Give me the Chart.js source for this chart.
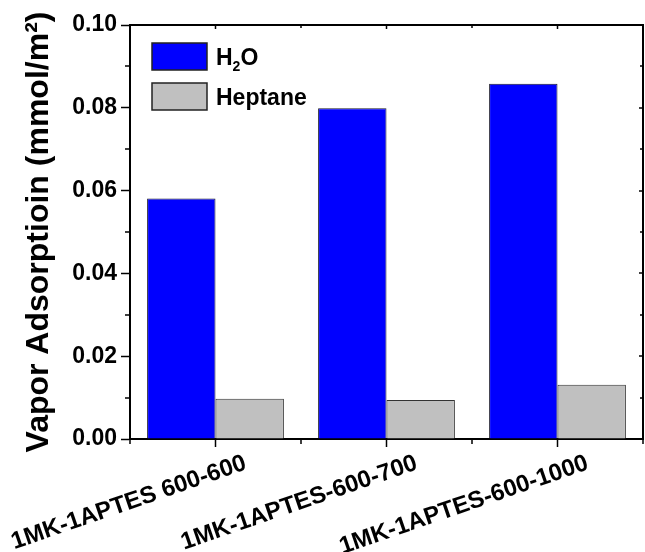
<!DOCTYPE html>
<html>
<head>
<meta charset="utf-8">
<script src="https://cdn.jsdelivr.net/npm/chart.js@4.4.1/dist/chart.umd.min.js"></script>
<style>
  html, body { margin: 0; padding: 0; background: #fff; }
  #wrap { width: 645px; height: 552px; }
</style>
</head>
<body>
<div id="wrap"><canvas id="vaporChart" width="645" height="552"></canvas></div>
<script>
// data
const categories = ["1MK-1APTES 600-600", "1MK-1APTES-600-700", "1MK-1APTES-600-1000"];
const seriesNames = ["H2O", "Heptane"];
const h2oValues = [0.0581, 0.0799, 0.0858];
const heptaneValues = [0.0097, 0.0094, 0.0131];
const yTicks = [0, 0.02, 0.04, 0.06, 0.08, 0.1];

const FONT = "'Liberation Sans', Arial, sans-serif";

// frame, minor ticks and mirrored ticks on top / right
const framePlugin = {
  id: "frame",
  afterDraw(chart) {
    const ctx = chart.ctx;
    const { left, right, top, bottom } = chart.chartArea;
    const x = chart.scales.x;
    const y = chart.scales.y;
    ctx.save();
    ctx.strokeStyle = "#000";
    ctx.lineWidth = 2;
    ctx.beginPath();
    ctx.moveTo(left, top);
    ctx.lineTo(right, top);
    ctx.lineTo(right, bottom);
    ctx.stroke();

    // y minor ticks (outside left), inside ticks on right
    ctx.lineWidth = 1.5;
    for (let i = 0; i <= 10; i++) {
      const py = Math.round(y.getPixelForValue(i * 0.01));
      const major = i % 2 === 0;
      ctx.beginPath();
      if (!major) {
        ctx.moveTo(left, py);
        ctx.lineTo(left - 5, py);
      }
      ctx.moveTo(right, py);
      ctx.lineTo(right - (major ? 4 : 3), py);
      ctx.stroke();
    }

    // x minor ticks at category boundaries, top ticks inward
    const n = categories.length;
    for (let i = 0; i <= n; i++) {
      const px = i === 0 ? left : i === n ? right : (x.getPixelForTick(i - 1) + x.getPixelForTick(i)) / 2;
      ctx.beginPath();
      ctx.moveTo(px, bottom);
      ctx.lineTo(px, bottom + 5);
      ctx.moveTo(px, top);
      ctx.lineTo(px, top + 3);
      ctx.stroke();
    }
    for (let i = 0; i < n; i++) {
      const px = x.getPixelForTick(i);
      ctx.beginPath();
      ctx.moveTo(px, top);
      ctx.lineTo(px, top + 4);
      ctx.stroke();
    }
    ctx.restore();
  },
};

// legend inside the plot, digits after a letter are drawn as subscripts
function drawLabel(ctx, text, x, y) {
  const big = "bold 23px " + FONT;
  const small = "bold 14px " + FONT;
  let cx = x;
  for (let i = 0; i < text.length; i++) {
    const ch = text[i];
    const sub = /[0-9]/.test(ch) && i > 0 && /[A-Za-z]/.test(text[i - 1]);
    ctx.font = sub ? small : big;
    ctx.fillText(ch, cx, sub ? y + 6 : y);
    cx += ctx.measureText(ch).width;
  }
}

const legendPlugin = {
  id: "insideLegend",
  afterDraw(chart) {
    const ctx = chart.ctx;
    const { left, top } = chart.chartArea;
    ctx.save();
    chart.data.datasets.forEach((ds, i) => {
      const bx = left + 22;
      const by = top + 18 + i * 40;
      ctx.fillStyle = ds.backgroundColor;
      ctx.fillRect(bx, by, 55, 27);
      ctx.strokeStyle = "#222";
      ctx.lineWidth = 1.5;
      ctx.strokeRect(bx, by, 55, 27);
      ctx.fillStyle = "#000";
      ctx.textBaseline = "alphabetic";
      drawLabel(ctx, ds.label, bx + 64, by + 22);
    });
    ctx.restore();
  },
};

new Chart(document.getElementById("vaporChart"), {
  type: "bar",
  data: {
    labels: categories,
    datasets: [
      {
        label: seriesNames[0],
        data: h2oValues,
        backgroundColor: "#0000ff",
        borderColor: "#1a1a2a",
        borderWidth: 1,
      },
      {
        label: seriesNames[1],
        data: heptaneValues,
        backgroundColor: "#c0c0c0",
        borderColor: "#333333",
        borderWidth: 1,
      },
    ],
  },
  options: {
    responsive: false,
    animation: false,
    layout: { padding: { top: 25, right: 2, left: 0, bottom: 0 } },
    datasets: {
      bar: { categoryPercentage: 0.8, barPercentage: 1.0 },
    },
    plugins: {
      legend: { display: false },
      tooltip: { enabled: false },
    },
    scales: {
      x: {
        offset: true,
        grid: {
          offset: false,
          drawOnChartArea: false,
          drawTicks: true,
          tickLength: 8,
          tickWidth: 1.5,
          tickColor: "#000",
        },
        border: { display: true, color: "#000", width: 2 },
        ticks: {
          autoSkip: false,
          minRotation: 19,
          maxRotation: 19,
          labelOffset: 30,
          padding: 2,
          color: "#000",
          font: { family: FONT, size: 24, weight: "bold" },
        },
        afterFit(scale) {
          scale.height = 113;
          scale.paddingLeft = 0;
          scale.paddingRight = 0;
        },
      },
      y: {
        min: 0,
        max: 0.1,
        afterBuildTicks(scale) {
          scale.ticks = yTicks.map((v) => ({ value: v }));
        },
        grid: {
          drawOnChartArea: false,
          drawTicks: true,
          tickLength: 9,
          tickWidth: 1.5,
          tickColor: "#000",
        },
        border: { display: true, color: "#000", width: 2 },
        ticks: {
          padding: 4,
          color: "#000",
          font: { family: FONT, size: 23, weight: "bold" },
          callback: (v) => Number(v).toFixed(2),
        },
        title: {
          display: true,
          text: "Vapor Adsorptioin (mmol/m\u00b2)",
          color: "#000",
          padding: { top: 20, bottom: 0 },
          font: { family: FONT, size: 32, weight: "bold" },
        },
        afterFit(scale) {
          scale.width = 130;
          scale.paddingTop = 0;
          scale.paddingBottom = 0;
        },
      },
    },
  },
  plugins: [framePlugin, legendPlugin],
});
</script>
</body>
</html>
